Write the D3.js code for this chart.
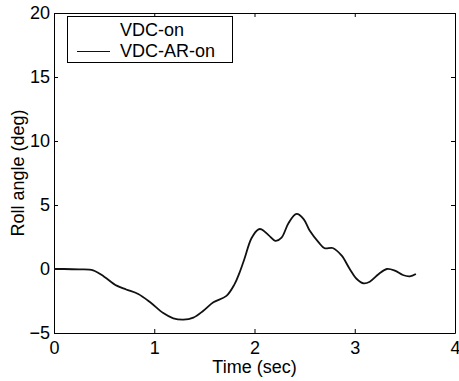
<!DOCTYPE html>
<html>
<head>
<meta charset="utf-8">
<script src="https://cdn.jsdelivr.net/npm/d3@7"></script>
<style>
  html, body { margin: 0; padding: 0; background: #fff; }
  svg { display: block; }
  text { font-family: 'Liberation Sans', Arial, sans-serif; fill: #000; }
</style>
</head>
<body>
<div id="chart"></div>
<script>
// values (time in sec, roll angle in deg)
const time = [0, 0.1, 0.25, 0.39, 0.5, 0.625, 0.72, 0.84, 0.96, 1.09, 1.19, 1.29, 1.39, 1.49,
  1.59, 1.72, 1.8, 1.85, 1.9, 1.97, 2.04, 2.07, 2.14, 2.21, 2.27, 2.34, 2.42, 2.49, 2.55,
  2.64, 2.7, 2.78, 2.87, 2.95, 3.02, 3.09, 3.15, 3.24, 3.32, 3.4, 3.48, 3.55, 3.61];
const rollAngle = [0, 0, -0.03, -0.1, -0.6, -1.3, -1.6, -1.95, -2.6, -3.44, -3.85, -3.96, -3.8, -3.26,
  -2.6, -2.1, -1.2, -0.3, 0.8, 2.4, 3.1, 3.1, 2.65, 2.2, 2.45, 3.6, 4.3, 3.9, 3.0,
  2.08, 1.62, 1.64, 1.04, 0, -0.78, -1.12, -0.99, -0.39, 0, -0.13, -0.47, -0.57, -0.39];
const xTicks = [0, 1, 2, 3, 4];
const yTicks = [-5, 0, 5, 10, 15, 20];
const legendLabels = ['VDC-on', 'VDC-AR-on'];

const W = 459, H = 381;
const margin = { left: 54, right: 455, top: 13, bottom: 333 };

const svg = d3.select('#chart')
  .append('svg')
  .attr('width', W)
  .attr('height', H);

const x = d3.scaleLinear().domain([0, 4]).range([margin.left, margin.right]);
const y = d3.scaleLinear().domain([-5, 20]).range([margin.bottom, margin.top]);

// box axes, ticks pointing inward
svg.append('g')
  .attr('transform', `translate(0,${margin.bottom})`)
  .call(d3.axisBottom(x).tickValues(xTicks).tickFormat(d3.format('d'))
    .tickSize(-4).tickSizeOuter(0).tickPadding(8));

svg.append('g')
  .attr('transform', `translate(0,${margin.top})`)
  .call(d3.axisTop(x).tickValues(xTicks).tickFormat('')
    .tickSize(-4).tickSizeOuter(0));

svg.append('g')
  .attr('transform', `translate(${margin.left},0)`)
  .call(d3.axisLeft(y).tickValues(yTicks).tickFormat(d3.format('d'))
    .tickSize(-4).tickSizeOuter(0).tickPadding(4));

svg.append('g')
  .attr('transform', `translate(${margin.right},0)`)
  .call(d3.axisRight(y).tickValues(yTicks).tickFormat('')
    .tickSize(-4).tickSizeOuter(0));

svg.selectAll('.domain, .tick line').attr('stroke', '#000');
svg.selectAll('.tick text')
  .style('font-family', "'Liberation Sans', Arial, sans-serif")
  .style('font-size', '18px')
  .attr('fill', '#000');

// axis titles
svg.append('text')
  .attr('x', (margin.left + margin.right) / 2)
  .attr('y', 373)
  .attr('text-anchor', 'middle')
  .style('font-size', '18px')
  .text('Time (sec)');

svg.append('text')
  .attr('transform', `translate(24,${(margin.top + margin.bottom) / 2}) rotate(-90)`)
  .attr('text-anchor', 'middle')
  .style('font-size', '18px')
  .text('Roll angle (deg)');

// curve
const pts = time.map((t, i) => [t, rollAngle[i]]);
const line = d3.line()
  .x((d) => x(d[0]))
  .y((d) => y(d[1]))
  .curve(d3.curveCatmullRom.alpha(0.5));

svg.append('path')
  .datum(pts)
  .attr('d', line)
  .attr('fill', 'none')
  .attr('stroke', '#111')
  .attr('stroke-width', 1.8)
  .attr('stroke-linejoin', 'round');

// legend
const legend = svg.append('g');
legend.append('rect')
  .attr('x', 67.5)
  .attr('y', 16.5)
  .attr('width', 165)
  .attr('height', 46)
  .attr('fill', '#fff')
  .attr('stroke', '#000');

legend.selectAll('text.legend-item')
  .data(legendLabels)
  .enter()
  .append('text')
  .attr('class', 'legend-item')
  .attr('x', 120)
  .attr('y', (d, i) => 36 + i * 21)
  .style('font-size', '18px')
  .text((d) => d);

legend.append('line')
  .attr('x1', 77)
  .attr('x2', 110)
  .attr('y1', 51.5)
  .attr('y2', 51.5)
  .attr('stroke', '#111')
  .attr('stroke-width', 1.2);
</script>
</body>
</html>
